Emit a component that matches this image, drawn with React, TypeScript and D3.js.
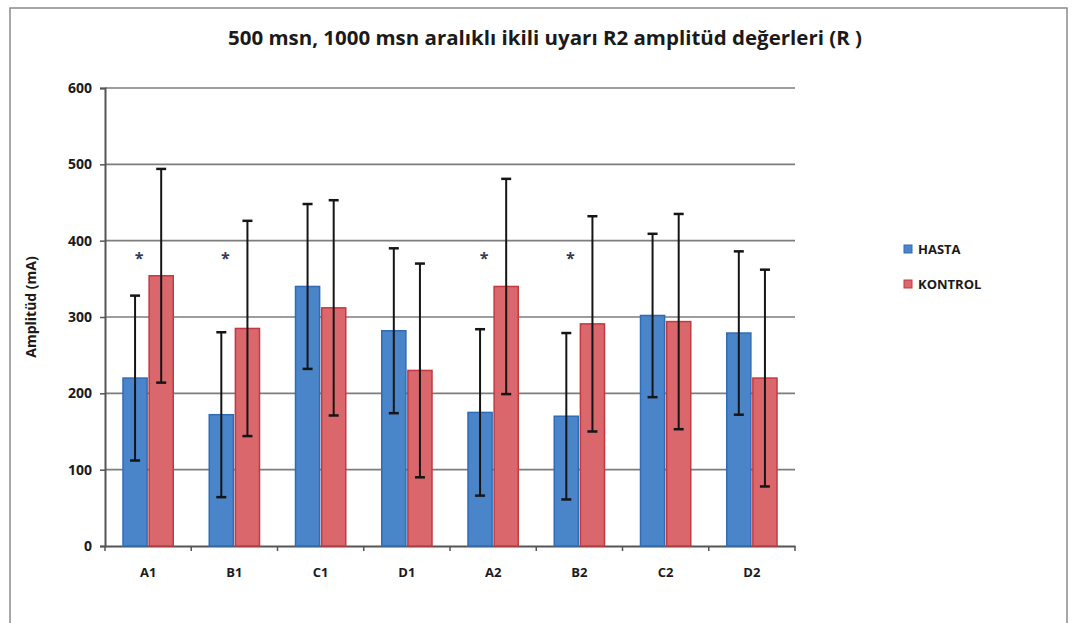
import React, { useEffect, useRef } from "react";
import * as d3 from "d3";

const categories = ["A1", "B1", "C1", "D1", "A2", "B2", "C2", "D2"];
const seriesNames = ["HASTA", "KONTROL"];
const hasta = [220, 172, 340, 282, 175, 170, 302, 279];
const hastaErr = [108, 108, 108, 108, 109, 109, 107, 107];
const kontrol = [354, 285, 312, 230, 340, 291, 294, 220];
const kontrolErr = [140, 141, 141, 140, 141, 141, 141, 142];
const starred = ["A1", "B1", "A2", "B2"];
const yTicks = [0, 100, 200, 300, 400, 500, 600];

const colors = { fill: ["#4A84C9", "#D9676B"], stroke: ["#2F6CB8", "#C23A40"] };

function App() {
  const ref = useRef<SVGSVGElement>(null);

  useEffect(() => {
    const svg = d3.select(ref.current);
    svg.selectAll("*").remove();
    const margin = { left: 105, top: 88, right: 282, bottom: 77 };
    const width = 1077;
    const height = 623;
    const innerWidth = width - margin.left - margin.right;
    const innerHeight = height - margin.top - margin.bottom;
    const font = "'Open Sans', 'DejaVu Sans', sans-serif";

    svg.append("rect").attr("width", width).attr("height", height).attr("fill", "#fff");
    svg
      .append("rect")
      .attr("x", 10)
      .attr("y", 8)
      .attr("width", 1057)
      .attr("height", 640)
      .attr("fill", "none")
      .attr("stroke", "#8a8a8a")
      .attr("stroke-width", 1.5);

    svg
      .append("text")
      .text("500 msn, 1000 msn aralıklı ikili uyarı  R2 amplitüd değerleri (R )")
      .attr("x", 545)
      .attr("y", 45)
      .attr("text-anchor", "middle")
      .attr("font-family", font)
      .attr("font-size", 19)
      .attr("font-weight", "bold")
      .attr("fill", "#1a1a1a")
      .attr("textLength", 634)
      .attr("lengthAdjust", "spacingAndGlyphs");

    const x = d3.scaleBand().domain(categories).range([0, innerWidth]);
    const x1 = d3.scaleBand().domain(seriesNames).range([17, x.bandwidth() - 17]);
    const y = d3.scaleLinear().domain([0, 600]).range([innerHeight, 0]);

    const g = svg.append("g").attr("transform", `translate(${margin.left},${margin.top})`);

    // gridlines
    g.selectAll(".grid")
      .data(yTicks.slice(1))
      .enter()
      .append("line")
      .attr("x1", 0)
      .attr("x2", innerWidth)
      .attr("y1", (d) => y(d))
      .attr("y2", (d) => y(d))
      .attr("stroke", "#7d7d7d")
      .attr("stroke-width", 1.6);

    const yAxis = d3.axisLeft(y).tickValues(yTicks).tickSize(5).tickPadding(8);
    const yAxisG = g.append("g").call(yAxis);
    yAxisG.select(".domain").attr("stroke", "#555").attr("stroke-width", 2);
    yAxisG.selectAll(".tick line").attr("stroke", "#555").attr("stroke-width", 1.5);
    yAxisG
      .selectAll(".tick text")
      .attr("font-family", font)
      .attr("font-size", 14)
      .attr("font-weight", "bold")
      .attr("fill", "#1a1a1a");

    const xAxis = d3.axisBottom(x).tickSize(0).tickPadding(22);
    const xAxisG = g.append("g").attr("transform", `translate(0,${innerHeight})`).call(xAxis);
    xAxisG.select(".domain").attr("stroke", "#555").attr("stroke-width", 2);
    xAxisG
      .selectAll(".tick text")
      .attr("font-family", font)
      .attr("font-size", 13)
      .attr("font-weight", "bold")
      .attr("fill", "#1a1a1a");
    xAxisG
      .selectAll(".bound")
      .data(d3.range(categories.length + 1))
      .enter()
      .append("line")
      .attr("x1", (i) => i * x.bandwidth())
      .attr("x2", (i) => i * x.bandwidth())
      .attr("y1", 0)
      .attr("y2", 5)
      .attr("stroke", "#555")
      .attr("stroke-width", 1.5);

    g.append("text")
      .text("Amplitüd  (mA)")
      .attr("transform", `translate(-69,${innerHeight / 2 - 10}) rotate(-90)`)
      .attr("text-anchor", "middle")
      .attr("font-family", font)
      .attr("font-size", 14)
      .attr("font-weight", "bold")
      .attr("fill", "#1a1a1a");

    const series = [
      { values: hasta, errs: hastaErr },
      { values: kontrol, errs: kontrolErr },
    ];

    series.forEach((s, si) => {
      const name = seriesNames[si];
      g.selectAll(`.bar${si}`)
        .data(categories)
        .enter()
        .append("rect")
        .attr("x", (c) => (x(c) as number) + (x1(name) as number) + 1)
        .attr("y", (c, i) => y(s.values[i]))
        .attr("width", x1.bandwidth() - 2)
        .attr("height", (c, i) => innerHeight - y(s.values[i]))
        .attr("fill", colors.fill[si])
        .attr("stroke", colors.stroke[si])
        .attr("stroke-width", 1.5);
    });

    series.forEach((s, si) => {
      const name = seriesNames[si];
      const cx = (c: string) => (x(c) as number) + (x1(name) as number) + x1.bandwidth() / 2;
      const eg = g.selectAll(`.err${si}`).data(categories).enter().append("g");
      eg.append("line")
        .attr("x1", cx)
        .attr("x2", cx)
        .attr("y1", (c, i) => y(s.values[i] + s.errs[i]))
        .attr("y2", (c, i) => y(s.values[i] - s.errs[i]))
        .attr("stroke", "#151515")
        .attr("stroke-width", 2);
      [1, -1].forEach((sign) => {
        eg.append("line")
          .attr("x1", (c) => cx(c) - 5)
          .attr("x2", (c) => cx(c) + 5)
          .attr("y1", (c, i) => y(s.values[i] + sign * s.errs[i]))
          .attr("y2", (c, i) => y(s.values[i] + sign * s.errs[i]))
          .attr("stroke", "#151515")
          .attr("stroke-width", 2.5);
      });
    });

    g.selectAll(".star")
      .data(starred)
      .enter()
      .append("text")
      .text("*")
      .attr("x", (c) => (x(c) as number) + (x1("HASTA") as number) + x1.bandwidth() / 2 + 4)
      .attr("y", y(370))
      .attr("text-anchor", "middle")
      .attr("font-family", font)
      .attr("font-size", 16)
      .attr("font-weight", "bold")
      .attr("fill", "#333a55");

    const legend = svg.append("g").attr("transform", "translate(904,245)");
    seriesNames.forEach((name, i) => {
      legend
        .append("rect")
        .attr("x", 0)
        .attr("y", i * 35)
        .attr("width", 8)
        .attr("height", 8)
        .attr("fill", colors.fill[i])
        .attr("stroke", colors.stroke[i]);
      legend
        .append("text")
        .text(name)
        .attr("x", 14)
        .attr("y", i * 35 + 9)
        .attr("font-family", font)
        .attr("font-size", 13)
        .attr("font-weight", "bold")
        .attr("fill", "#1a1a1a");
    });
  }, []);

  return (
    <svg
      ref={ref}
      width={1077}
      height={623}
      style={{ position: "absolute", left: 0, top: 0, display: "block" }}
    ></svg>
  );
}

export default App;
